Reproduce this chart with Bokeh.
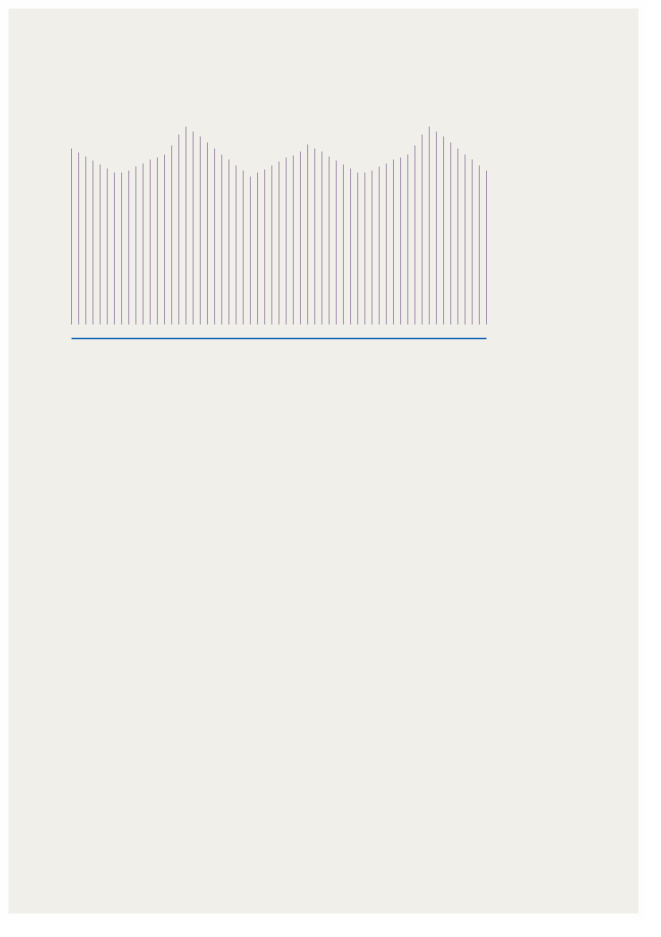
from bokeh.plotting import figure
from bokeh.models import Range1d
from bokeh.layouts import column
from bokeh.embed import file_html
from bokeh.resources import INLINE

# Data (bar heights, arbitrary units)
index = list(range(59))
values = [176, 172, 168, 164, 160, 156, 152, 152, 154, 158,
          161, 165, 167, 170, 179, 190, 198, 193, 188, 182,
          176, 170, 165, 159, 154, 148, 152, 155, 159, 163,
          167, 169, 173, 180, 176, 173, 168, 164, 160, 156,
          152, 152, 154, 158, 161, 165, 167, 170, 179, 190,
          198, 193, 188, 182, 176, 170, 165, 159, 154]
baseline = [0] * len(values)
rule_level = -14

W, H = 630, 905
BORDER = 8
px_per_idx = 415 / 58
x0 = -63 / px_per_idx

p = figure(width=W + 2 * BORDER, height=H + 2 * BORDER,
           output_backend="svg", toolbar_location=None,
           x_range=Range1d(x0, x0 + W / px_per_idx),
           y_range=Range1d(-(H - 316), 316),
           min_border_left=BORDER, min_border_right=BORDER,
           min_border_top=BORDER, min_border_bottom=BORDER)
p.axis.visible = False
p.grid.visible = False
p.outline_line_color = None
p.background_fill_color = "#f0efea"
p.border_fill_color = "#fefefe"

p.segment(x0=index, y0=baseline, x1=index, y1=values,
          line_color="#a593ad", line_width=1)
p.segment(x0=[index[0]], y0=[rule_level], x1=[index[-1]], y1=[rule_level],
          line_color="#1565b5", line_width=1.3)

open("out.html", "w").write(file_html(p, INLINE))
